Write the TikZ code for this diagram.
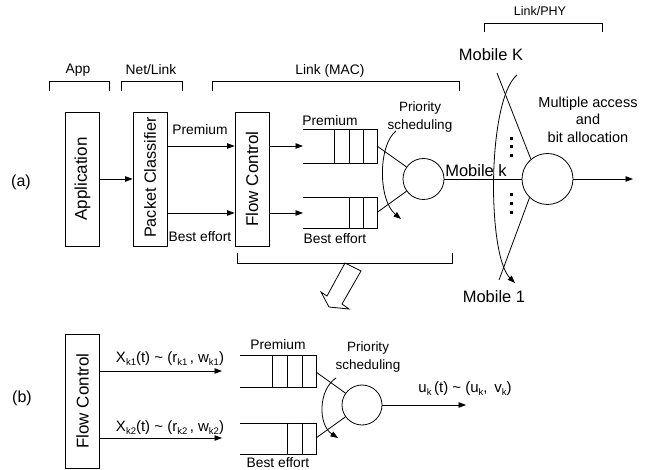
\documentclass[tikz,border=0pt]{standalone}
\usepackage{fontspec}
\setmainfont{Liberation Sans}
\usetikzlibrary{arrows.meta}
\newcommand\myfs[2]{\fontsize{#1}{#2}\selectfont}
\newcommand\sbx[1]{\raisebox{-0.35ex}{\fontsize{9.5}{10}\selectfont #1}}
\begin{document}
\begin{tikzpicture}[x=1pt,y=-1pt,line width=0.8pt,
  arr/.style={-{Triangle[length=7.5pt,width=5.5pt]}},
  box/.style={draw,minimum width=34pt,minimum height=134pt,inner sep=0pt},
  boxtxt/.style={rotate=90,font=\myfs{17}{19},inner sep=0pt},
  lbl/.style={font=\myfs{13.8}{15},inner sep=0pt},
  lbltwo/.style={font=\myfs{13.5}{18},inner sep=0pt,align=center},
  mob/.style={font=\myfs{16.5}{18},inner sep=0pt},
  frm/.style={font=\myfs{15}{17},inner sep=0pt},
  srv/.style={circle,draw,inner sep=0pt,minimum size=41pt},
]
\useasboundingbox (0,0) rectangle (654,470);

% ---------------- (a) ----------------
\node[font=\myfs{16}{18},inner sep=0pt] (la) at (21,182) {(a)};

% brackets
\draw (49,91) -- (49,81) -- (109,81) -- (109,91);
\node[lbl] (tApp) at (78,70) {App};
\draw (121,91) -- (121,81) -- (182,81) -- (182,91);
\node[lbl] (tNet) at (151,70) {Net/Link};
\draw (212,91) -- (212,81) -- (459,81) -- (459,91);
\node[lbl] (tMac) at (330,71) {Link (MAC)};
\draw (484,32) -- (484,23) -- (602,23) -- (602,32);
\node[font=\myfs{12.5}{14},inner sep=0pt] (tPhy) at (540,11) {Link/PHY};

% boxes
\node[box] (app) at (82.5,179) {};
\node[boxtxt] (appt) at (app) {Application};
\node[box] (pc) at (150,179) {};
\node[boxtxt,font=\myfs{16.2}{18}] (pct) at (150,177.5) {Packet Classifier};
\node[box] (fc) at (252,179) {};
\node[boxtxt] (fct) at (fc) {Flow Control};

\coordinate (q1in) at (303,146);
\coordinate (q2in) at (303,213);
\draw[arr] (app) -- (pc);
\draw[arr] (pc.east |- q1in) -- (fc.west |- q1in);
\draw[arr] (pc.east |- q2in) -- (fc.west |- q2in);
\draw[arr] (fc.east |- q1in) -- (q1in);
\draw[arr] (fc.east |- q2in) -- (q2in);
\node[lbl] (premA) at (200,130) {Premium};
\node[lbl] (beA) at (200,237) {Best effort};

% queues (a)
\draw (303,129) -- (377,129) -- (377,163) -- (303,163);
\foreach \x in {334,349,363} \draw (\x,129) -- (\x,163);
\draw (303,197) -- (377,197) -- (377,228) -- (303,228);
\foreach \x in {349,363} \draw (\x,197) -- (\x,228);
\node[lbl] (premQ) at (330,121) {Premium};
\node[lbl] (beQ) at (335,239) {Best effort};

\coordinate (q1out) at (377,146);
\coordinate (q2out) at (377,212.5);
\node[srv] (s1) at (423.5,179) {};
\draw (q1out) -- (s1);
\draw (q2out) -- (s1);
\draw[arr] (396,131) .. controls (378,145) and (378,200) .. (401,219);
\node[lbltwo] (psA) at (420,117) {Priority\\scheduling};

% bottom bracket and hollow arrow
\draw (237,253) -- (237,263) -- (452,263) -- (452,253);
\draw[line join=miter] (345,263) -- (361,271) -- (342,304) -- (349,309) -- (329,307) -- (321,292) -- (327,296) -- cycle;

% multiple access
\node[srv,minimum size=51pt] (ma) at (547.5,179) {};
\draw (s1) -- (ma);
\node[mob,anchor=base] (mk) at (476,176.5) {Mobile k};
\node[mob] (mK) at (491,55) {Mobile K};
\node[mob] (m1) at (494,297) {Mobile 1};
\coordinate (kTop) at (497,73);
\coordinate (oneBot) at (499,280);
\draw (kTop) -- (ma.130);
\draw (ma.226) -- (oneBot);
\draw[arr] (517,75) .. controls (487,100) and (487,255) .. (515,283);
\foreach \y in {138.5,147,155.5,195,204,213}
  \fill (509.8,\y-1.5) rectangle (512.6,\y+1.5);
\coordinate (outA) at (633,179);
\draw[arr] (ma) -- (outA);
\node[lbltwo,font=\myfs{14.5}{17.5}] (mab) at (588,119.5) {Multiple access\\and\\bit allocation};

% ---------------- (b) ----------------
\node[font=\myfs{16}{18},inner sep=0pt] (lb) at (22,398) {(b)};
\node[box] (fcb) at (82.5,401) {};
\node[boxtxt] (fcbt) at (fcb) {Flow Control};
\coordinate (p1in) at (222,371);
\coordinate (p2in) at (222,438);
\draw[arr] (fcb.east |- p1in) -- (p1in);
\draw[arr] (fcb.east |- p2in) -- (p2in);
\node[frm] (x1) at (170,359) {X\sbx{k1}(t) \textasciitilde{} (r\sbx{k1}\,, w\sbx{k1})};
\node[frm] (x2) at (170,428) {X\sbx{k2}(t) \textasciitilde{} (r\sbx{k2}\,, w\sbx{k2})};

\draw (240,355) -- (316,355) -- (316,387) -- (240,387);
\foreach \x in {272,287,302} \draw (\x,355) -- (\x,387);
\draw (240,423) -- (316,423) -- (316,454) -- (240,454);
\foreach \x in {287,302} \draw (\x,423) -- (\x,454);
\node[lbl] (premB) at (278,345) {Premium};
\node[lbl] (beB) at (278,463) {Best effort};

\coordinate (p1out) at (316,372);
\coordinate (p2out) at (316,438);
\node[srv,minimum size=40pt] (s2) at (362,405) {};
\draw (p1out) -- (s2);
\draw (p2out) -- (s2);
\draw[arr] (336,378) .. controls (318,390) and (318,425) .. (338,438);
\node[lbltwo] (psB) at (368,357) {Priority\\scheduling};
\coordinate (uout) at (466,405);
\draw[arr] (s2) -- (uout);
\node[frm] (ulbl) at (465,389) {u\sbx{k}\,(t) \textasciitilde{} (u\sbx{k}, \,v\sbx{k})};
\end{tikzpicture}
\end{document}
